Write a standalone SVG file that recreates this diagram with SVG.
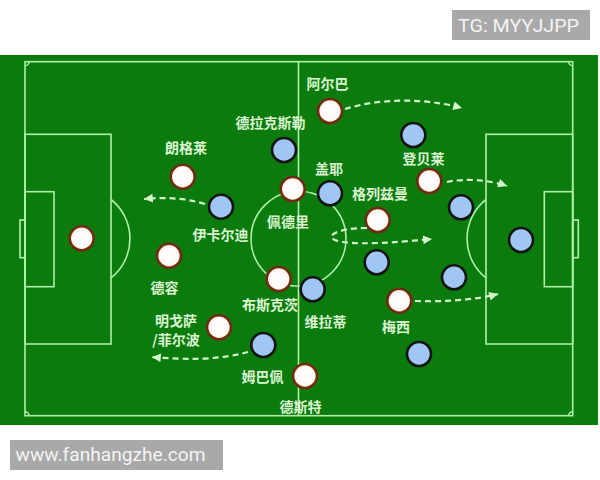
<svg xmlns="http://www.w3.org/2000/svg" width="600" height="480" viewBox="0 0 600 480">
<style>
.line{fill:none;stroke:#aef0a8;stroke-width:1.6}
.lbl{font-family:"Noto Sans CJK SC","Noto Sans",sans-serif;font-size:14px;font-weight:bold;fill:#dcf5d2;text-anchor:middle}
.w{fill:url(#wg);stroke:#6e2c10;stroke-width:2.6}
.b{fill:#a0c6f4;stroke:#141414;stroke-width:2.6}
.arr{fill:none;stroke:#d4f5cc;stroke-width:2.2;stroke-dasharray:6 4;marker-end:url(#ah)}
.wm{font-family:Roboto,"Liberation Sans",sans-serif;fill:#f4f4f4}
</style>
<defs>
<radialGradient id="wg" cx="0.5" cy="0.5" r="0.5">
<stop offset="0" stop-color="#ffffff"/>
<stop offset="0.75" stop-color="#fffaf8"/>
<stop offset="1" stop-color="#f8dcd0"/>
</radialGradient>
<marker id="ah" viewBox="0 0 10 10" refX="10" refY="5" markerWidth="4.6" markerHeight="4" orient="auto" markerUnits="strokeWidth">
<path d="M0,0 L10,5 L0,10 z" fill="#d4f5cc"/>
</marker>
</defs>
<rect width="600" height="480" fill="#ffffff"/>
<g id="watermark-top">
<rect x="452" y="10" width="138" height="30" fill="#a9a9a9"/>
<text class="wm" x="458" y="32" font-size="18" textLength="121" lengthAdjust="spacingAndGlyphs">TG: MYYJJPP</text>
</g>
<g id="pitch">
<rect x="0" y="55" width="598" height="370" fill="#0a7b0c"/>
<rect class="line" x="25" y="61.7" width="547.7" height="354"/>
<line class="line" x1="298.5" y1="61.7" x2="298.5" y2="415.7" stroke="#d6f7d0"/>
<circle class="line" cx="298.5" cy="238.7" r="47.5"/>
<rect class="line" x="25" y="134.3" width="86" height="209.7"/>
<rect class="line" x="25" y="191.7" width="29" height="95"/>
<rect class="line" x="20" y="220" width="5" height="37.7"/>
<path class="line" d="M111,199.5 A50,50 0 0 1 111,277.9"/>
<rect class="line" x="486" y="134.3" width="86.7" height="209.7"/>
<rect class="line" x="544.3" y="191.7" width="28.4" height="95"/>
<rect class="line" x="572.7" y="220" width="5.6" height="37.7"/>
<path class="line" d="M486,199.5 A50,50 0 0 0 486,277.9"/>
<path class="line" d="M29,61.7 A4,4 0 0 1 25,65.7"/>
<path class="line" d="M25,411.7 A4,4 0 0 1 29,415.7"/>
<path class="line" d="M568.7,61.7 A4,4 0 0 0 572.7,65.7"/>
<path class="line" d="M572.7,411.7 A4,4 0 0 0 568.7,415.7"/>
</g>
<g id="connectors">
<path class="arr" d="M345,109 C380,98 425,98 462,108"/>
<path class="arr" d="M447,182 C465,178 490,180 507,186"/>
<path class="arr" d="M367,228 C335,228 320,238 342,242 C365,245 400,242 432,239"/>
<path class="arr" d="M415,301 C445,302 475,300 498,294"/>
<path class="arr" d="M205,204 C185,198 165,197 144,199"/>
<path class="arr" d="M248,352 C220,360 185,360 152,357"/>
</g>
<g id="white-team">
<g id="w-gk"><circle class="w" cx="81.7" cy="238.3" r="12"/></g>
<g id="w-dejong"><circle class="w" cx="169" cy="255.7" r="12"/><text class="lbl" x="164.5" y="293">德容</text></g>
<g id="w-lenglet"><circle class="w" cx="182.7" cy="176.7" r="12"/><text class="lbl" x="186" y="153">朗格莱</text></g>
<g id="w-mingueza"><circle class="w" cx="219" cy="327.3" r="12"/><text class="lbl" x="176" y="326">明戈萨</text><text class="lbl" x="176" y="344.5">/菲尔波</text></g>
<g id="w-busquets"><circle class="w" cx="278.7" cy="279" r="12"/><text class="lbl" x="270" y="310">布斯克茨</text></g>
<g id="w-pedri"><circle class="w" cx="292.7" cy="189" r="12"/><text class="lbl" x="288" y="227">佩德里</text></g>
<g id="w-dest"><circle class="w" cx="305" cy="376" r="12"/><text class="lbl" x="300.5" y="412">德斯特</text></g>
<g id="w-alba"><circle class="w" cx="330" cy="111" r="12"/><text class="lbl" x="327.5" y="89">阿尔巴</text></g>
<g id="w-griezmann"><circle class="w" cx="377.7" cy="220" r="12"/><text class="lbl" x="380" y="199">格列兹曼</text></g>
<g id="w-dembele"><circle class="w" cx="429.3" cy="181" r="12"/><text class="lbl" x="423.5" y="164">登贝莱</text></g>
<g id="w-messi"><circle class="w" cx="399.3" cy="300.7" r="12"/><text class="lbl" x="396" y="332">梅西</text></g>
</g>
<g id="blue-team">
<g id="b-draxler"><circle class="b" cx="284" cy="150" r="12"/><text class="lbl" x="270.5" y="128">德拉克斯勒</text></g>
<g id="b-icardi"><circle class="b" cx="221" cy="206.7" r="12"/><text class="lbl" x="220.5" y="240">伊卡尔迪</text></g>
<g id="b-gueye"><circle class="b" cx="330" cy="193.3" r="12"/><text class="lbl" x="329" y="174">盖耶</text></g>
<g id="b-verratti"><circle class="b" cx="312.7" cy="289.3" r="12"/><text class="lbl" x="325.5" y="327">维拉蒂</text></g>
<g id="b-mbappe"><circle class="b" cx="263.3" cy="345" r="12"/><text class="lbl" x="262.5" y="382">姆巴佩</text></g>
<g id="b-p6"><circle class="b" cx="413.3" cy="135" r="12"/></g>
<g id="b-p7"><circle class="b" cx="461" cy="207.3" r="12"/></g>
<g id="b-p8"><circle class="b" cx="376.7" cy="262.3" r="12"/></g>
<g id="b-p9"><circle class="b" cx="454" cy="277.3" r="12"/></g>
<g id="b-p10"><circle class="b" cx="419" cy="354" r="12"/></g>
<g id="b-gk"><circle class="b" cx="521" cy="240" r="12"/></g>
</g>
<g id="watermark-bottom">
<rect x="10" y="440" width="213" height="30" fill="#a9a9a9"/>
<text class="wm" x="15.5" y="461" font-size="18" textLength="190" lengthAdjust="spacingAndGlyphs">www.fanhangzhe.com</text>
</g>
</svg>
